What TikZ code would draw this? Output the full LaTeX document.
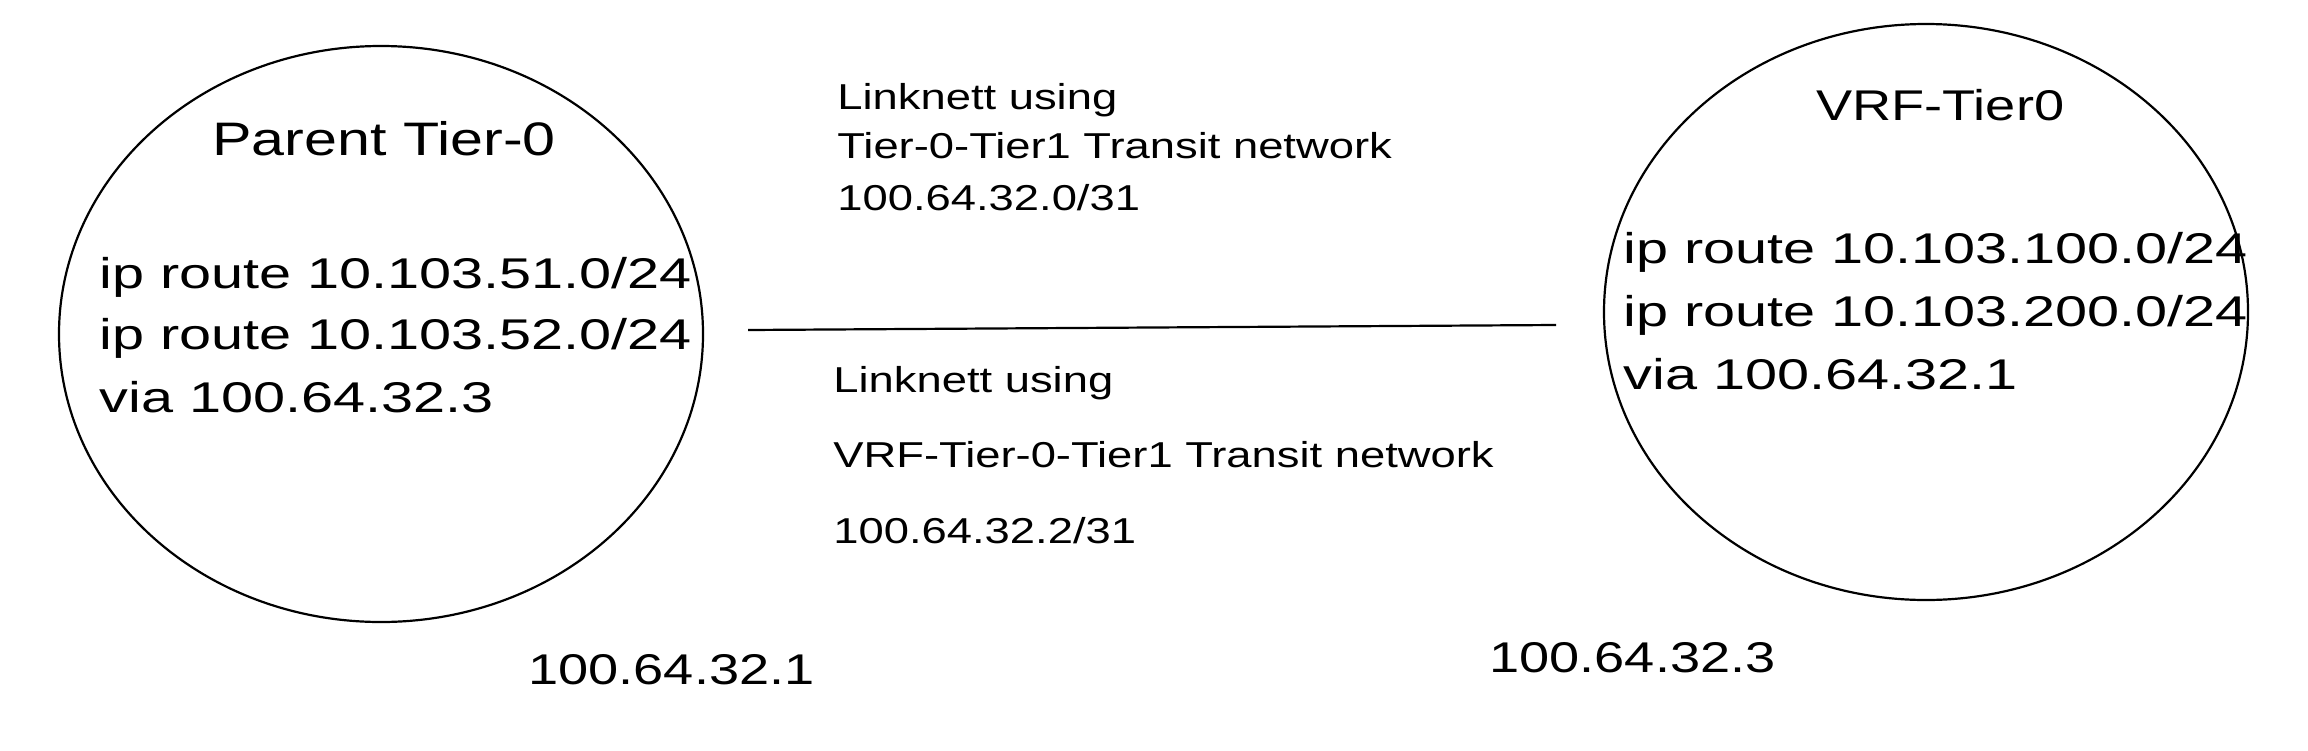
\documentclass[tikz,border=0pt]{standalone}
\usepackage{fontspec}
\setmainfont[FakeStretch=1.26]{Liberation Sans}
\newfontfamily\widefont[FakeStretch=1.34]{Liberation Sans}
\usetikzlibrary{shapes.geometric}
\begin{document}
\begin{tikzpicture}[x=0.5pt,y=-0.5pt,
  bubble/.style={draw, ellipse, line width=1.1pt, minimum width=322pt, minimum height=288pt, inner sep=0pt},
  big/.style={font=\fontsize{21.5}{26}\selectfont, anchor=base west, inner sep=0pt},
  route/.style={font=\widefont\fontsize{21.5}{26}\selectfont, anchor=base west, inner sep=0pt},
  title/.style={font=\fontsize{23.5}{28}\selectfont, anchor=base west, inner sep=0pt},
  small/.style={font=\fontsize{18}{22}\selectfont, anchor=base west, inner sep=0pt},
  link/.style={line width=1.1pt}]
\path[use as bounding box, fill=white] (0,0) rectangle (2308,750);

% ellipses
\node[bubble] (parent) at (381,334) {};
\node[bubble] (vrf) at (1926,312) {};

% left contents
\node[title] (ptitle) at (212,155) {Parent Tier-0};
\node[route] (pr1) at (99,288) {ip route 10.103.51.0/24};
\node[route] (pr2) at (99,349) {ip route 10.103.52.0/24};
\node[route] (pvia) at (99,412) {via 100.64.32.3};
\node[big] (pip) at (528,684) {100.64.32.1};

% right contents
\node[big] (vtitle) at (1816,120) {VRF-Tier0};
\node[route] (vr1) at (1623,263) {ip route 10.103.100.0/24};
\node[route] (vr2) at (1623,326) {ip route 10.103.200.0/24};
\node[route] (vvia) at (1623,389) {via 100.64.32.1};
\node[big] (vip) at (1489,672) {100.64.32.3};

% middle labels
\node[small] (l1a) at (837,109) {Linknett using};
\node[small] (l1b) at (837,158) {Tier-0-Tier1 Transit network};
\node[small] (l1c) at (837,210) {100.64.32.0/31};
\node[small] (l2a) at (833,392) {Linknett using};
\node[small] (l2b) at (833,467) {VRF-Tier-0-Tier1 Transit network};
\node[small] (l2c) at (833,543) {100.64.32.2/31};

% link line
\coordinate (la) at (748,330);
\coordinate (lb) at (1556,325);
\draw[link] (la) -- (lb);
\end{tikzpicture}
\end{document}
